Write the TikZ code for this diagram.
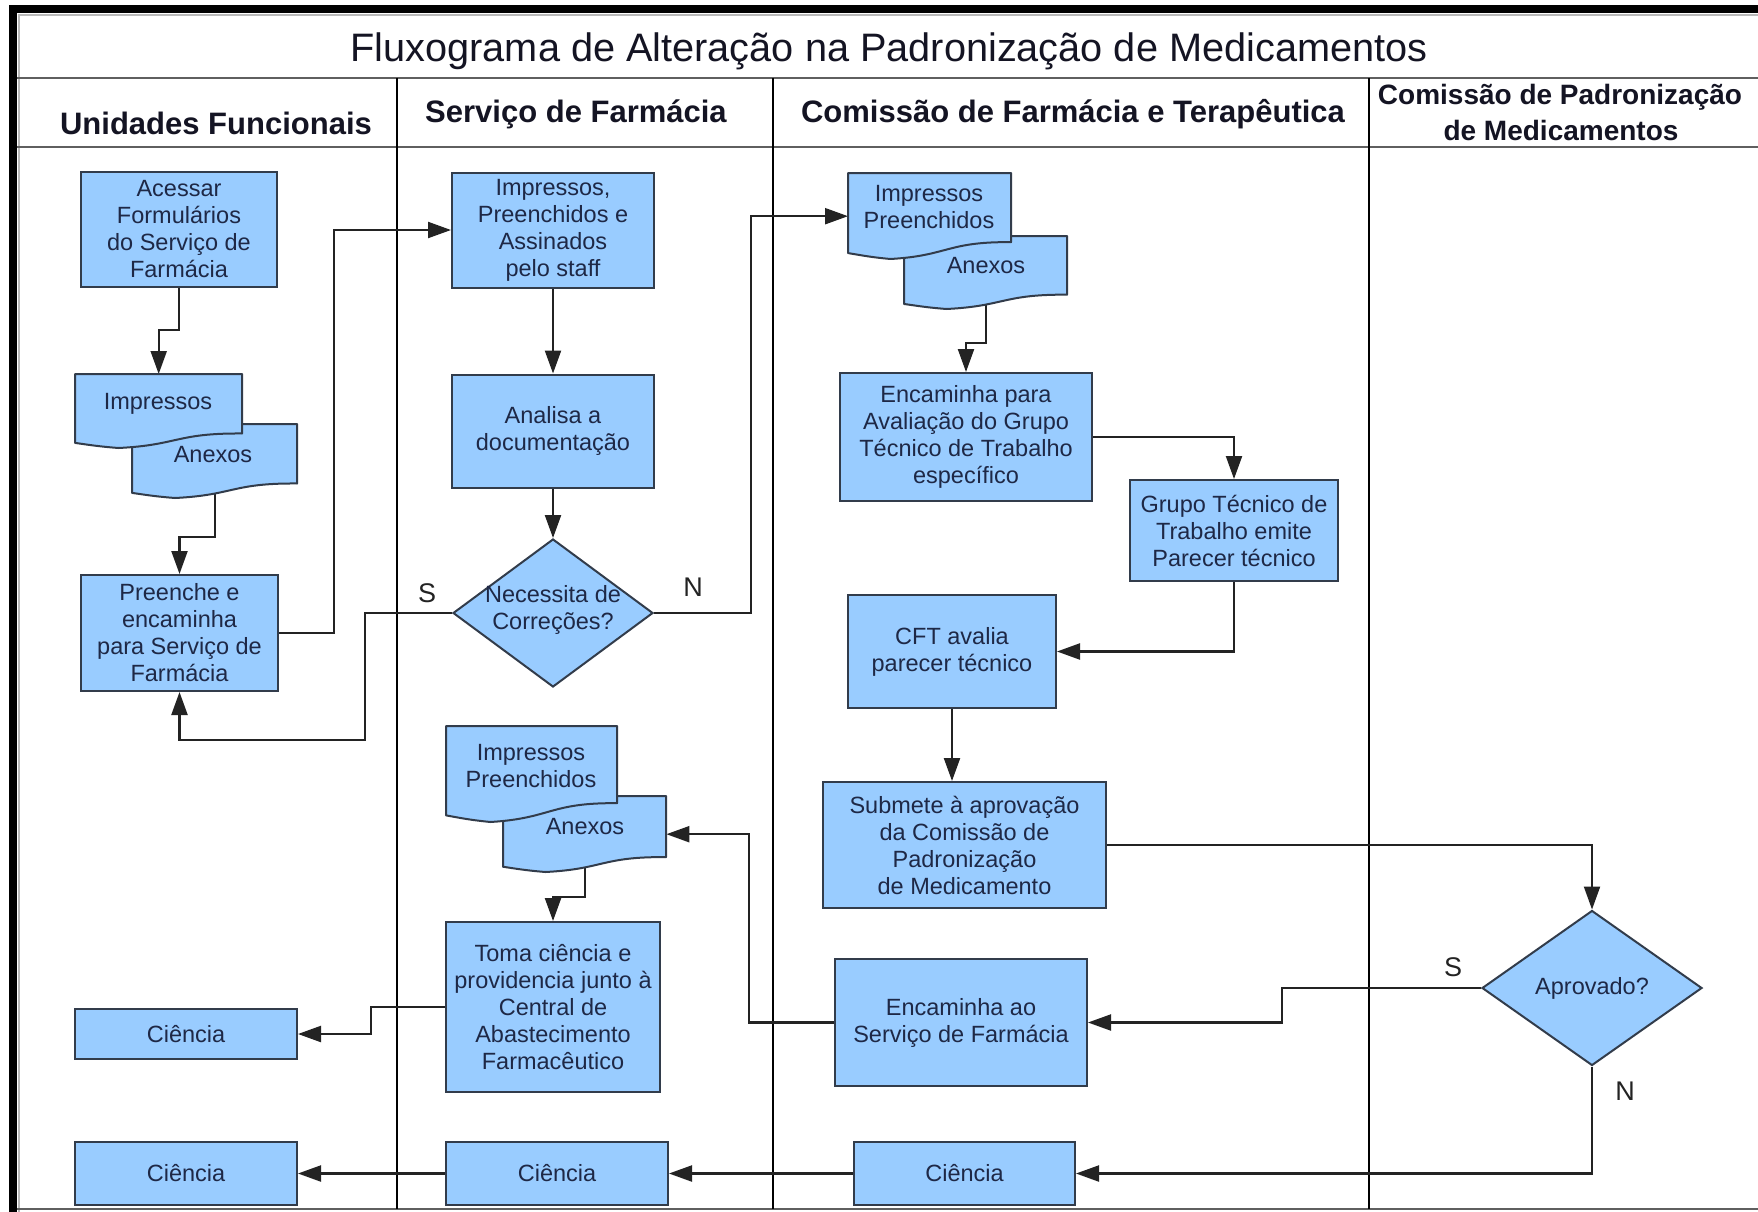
\documentclass[tikz,border=0pt]{standalone}
\usepackage{fontspec}
\setmainfont{Liberation Sans}
\usetikzlibrary{arrows.meta,shapes.geometric,calc}
\pgfdeclarelayer{bg}
\pgfsetlayers{bg,main}
\definecolor{boxfill}{RGB}{153,204,255}
\definecolor{boxline}{RGB}{50,60,75}
\definecolor{boxtext}{RGB}{30,40,70}
\definecolor{conn}{RGB}{35,35,35}
\definecolor{frameg}{RGB}{95,95,95}
\definecolor{headtext}{RGB}{20,20,35}
\tikzset{
  proc/.style={draw=boxline, fill=boxfill, line width=2pt, inner sep=0pt, text=boxtext,
    align=center, font=\fontsize{23.5}{27}\selectfont, rectangle},
  dia/.style={draw=boxline, fill=boxfill, line width=2pt, inner sep=0pt, diamond},
  docsh/.style={draw=boxline, fill=boxfill, line width=2pt, line join=round},
  docanchor/.style={inner sep=0pt, draw=none, rectangle},
  btxt/.style={inner sep=0pt, text=boxtext, align=center, font=\fontsize{23.5}{27}\selectfont},
  arr/.style={draw=conn, line width=2.2pt, -{Triangle[length=23pt,width=16pt]}},
  lbl/.style={inner sep=0pt, text=conn, font=\fontsize{27}{30}\selectfont},
  head/.style={inner sep=0pt, text=headtext, font=\fontsize{31}{35}\selectfont\bfseries, anchor=base},
}
% name, x, y, w, h  (top-left corner, y grows downward)
\newcommand{\mydoc}[5]{%
  \path[docsh] ({#2},{#3}) -- ++({#4},0) -- ++(0,{0.804*#5})
    .. controls ({#2+0.604*#4},{#3+0.797*#5}) and ({#2+0.618*#4},{#3+0.961*#5}) .. ({#2+0.26*#4},{#3+#5})
    .. controls ({#2+0.132*#4},{#3+0.977*#5}) and ({#2+0.086*#4},{#3+0.958*#5}) .. ({#2},{#3+0.931*#5}) -- cycle;
  \node[docanchor, minimum width=#4pt, minimum height=#5pt, anchor=north west] (#1) at (#2,#3) {};
}
\begin{document}
\begin{tikzpicture}[x=1pt,y=-1pt]
\useasboundingbox (0,0) rectangle (1758,1212);

% ---------- title and headers ----------
\node[inner sep=0pt, anchor=base, text=headtext, font=\fontsize{39.7}{44}\selectfont] (title) at (889,62)
  {Fluxograma de Alteração na Padronização de Medicamentos};
\node[head] (h1) at (216,135) {Unidades Funcionais};
\node[head] (h2) at (576,123) {Serviço de Farmácia};
\node[head] (h3) at (1073,123) {Comissão de Farmácia e Terapêutica};
\node[head, font=\fontsize{28}{32}\selectfont\bfseries] (h4a) at (1560,105) {Comissão de Padronização};
\node[head, font=\fontsize{28}{32}\selectfont\bfseries] (h4b) at (1561,140) {de Medicamentos};

% ---------- column 1 ----------
\node[proc, minimum width=196pt, minimum height=115pt] (acessar) at (179,229.5)
  {Acessar\\Formulários\\do Serviço de\\Farmácia};
\mydoc{d1b}{132}{424}{165}{74}
\mydoc{d1a}{75}{374}{167}{74}
\node[btxt] (d1at) at (158,404) {Impressos};
\node[btxt] (d1bt) at (213,455) {Anexos};
\node[proc, minimum width=197pt, minimum height=116pt] (preenche) at (179.5,633)
  {Preenche e\\encaminha\\para Serviço de\\Farmácia};
\node[proc, minimum width=222pt, minimum height=50pt] (cien1a) at (186,1034) {Ciência};
\node[proc, minimum width=222pt, minimum height=63pt] (cien1b) at (186,1173.5) {Ciência};

% ---------- column 2 ----------
\node[proc, minimum width=202pt, minimum height=115pt] (impstaff) at (553,230)
  {Impressos,\\Preenchidos e\\Assinados\\pelo staff};
\node[proc, minimum width=202pt, minimum height=113pt] (analisa) at (553,431)
  {Analisa a\\documentação};
\node[dia, minimum width=200pt, minimum height=148pt] (nec) at (553,613) {};
\node[btxt] (nect) at (553,609.5) {Necessita de\\Correções?};
\mydoc{d2b}{503}{796}{163}{76}
\mydoc{d2a}{446}{726}{171}{96}
\node[btxt] (d2at) at (531,766) {Impressos\\Preenchidos};
\node[btxt] (d2bt) at (585,827) {Anexos};
\node[proc, minimum width=214pt, minimum height=170pt] (toma) at (553,1007)
  {Toma ciência e\\providencia junto à\\Central de\\Abastecimento\\Farmacêutico};
\node[proc, minimum width=222pt, minimum height=63pt] (cien2) at (557,1173.5) {Ciência};

% ---------- column 3 ----------
\mydoc{d3b}{904}{236}{163}{73}
\mydoc{d3a}{848}{173}{163}{86}
\node[btxt] (d3at) at (929,207.5) {Impressos\\Preenchidos};
\node[btxt] (d3bt) at (986,266) {Anexos};
\node[proc, minimum width=252pt, minimum height=128pt] (encpara) at (966,437)
  {Encaminha para\\Avaliação do Grupo\\Técnico de Trabalho\\específico};
\node[proc, minimum width=208pt, minimum height=101pt] (grupo) at (1234,530.5)
  {Grupo Técnico de\\Trabalho emite\\Parecer técnico};
\node[proc, minimum width=208pt, minimum height=113pt] (cft) at (952,651.5)
  {CFT avalia\\parecer técnico};
\node[proc, minimum width=283pt, minimum height=126pt] (submete) at (964.5,845)
  {Submete à aprovação\\da Comissão de\\Padronização\\de Medicamento};
\node[proc, minimum width=252pt, minimum height=127pt] (encao) at (961,1022.5)
  {Encaminha ao\\Serviço de Farmácia};
\node[proc, minimum width=221pt, minimum height=63pt] (cien3) at (964.5,1173.5) {Ciência};

% ---------- column 4 ----------
\node[dia, minimum width=220pt, minimum height=155pt] (aprov) at (1592,988) {};
\node[btxt] (aprovt) at (1592,988) {Aprovado?};

% ---------- branch labels ----------
\node[lbl] (s1) at (427,593) {S};
\node[lbl] (n1) at (693,587) {N};
\node[lbl] (s2) at (1453,967) {S};
\node[lbl] (n2) at (1625,1091) {N};

\begin{pgfonlayer}{bg}
  \fill[white] (0,0) rectangle (1758,1212);
  % frame
  \draw[black, line width=8pt] (13,1212) -- (13,9) -- (1758,9);
  \draw[gray!55, line width=1.2pt] (19,1212) -- (19,15) -- (1758,15);
  \draw[frameg, line width=2.5pt] (17,78) -- (1758,78);
  \draw[frameg, line width=2.5pt] (17,147) -- (1758,147);
  \draw[frameg, line width=2.5pt] (17,1209) -- (1758,1209);
  \draw[black, line width=1.5pt] (397,78) -- (397,1209);
  \draw[black, line width=1.5pt] (773,78) -- (773,1209);
  \draw[black, line width=1.5pt] (1369,78) -- (1369,1209);
  % connectors
  \draw[arr] (acessar.south) -- ++(0,42) -| (d1a.north);
  \draw[arr] (d1b.center) -- ++(0,76) -| (preenche.north);
  \draw[arr] (preenche.east) -- ++(55,0) |- (impstaff.west);
  \draw[arr] (impstaff.south) -- (analisa.north);
  \draw[arr] (analisa.south) -- (nec.north);
  \draw[arr] (nec.west) -- ++(-87,0) -- ++(0,127) -| (preenche.south);
  \draw[arr] (nec.east) -- ++(97,0) |- (d3a.west);
  \draw[arr] (d3b.center) -- ++(0,70.5) -| (encpara.north);
  \draw[arr] (encpara.east) -| (grupo.north);
  \draw[arr] (grupo.south) |- (cft.east);
  \draw[arr] (cft.south) -- (cft.south |- submete.north);
  \draw[arr] (submete.east) -| (aprov.north);
  \draw[arr] (aprov.west) -- ++(-199,0) |- (encao.east);
  \draw[arr] (aprov.south) |- (cien3.east);
  \draw[arr] (encao.west) -- ++(-85,0) |- (d2b.east);
  \draw[arr] (d2b.center) -- ++(0,63) -| (toma.north);
  \draw[arr] (toma.west) -- ++(-74,0) |- (cien1a.east);
  \draw[arr] (cien3.west) -- (cien2.east);
  \draw[arr] (cien2.west) -- (cien1b.east);
\end{pgfonlayer}
\end{tikzpicture}
\end{document}
